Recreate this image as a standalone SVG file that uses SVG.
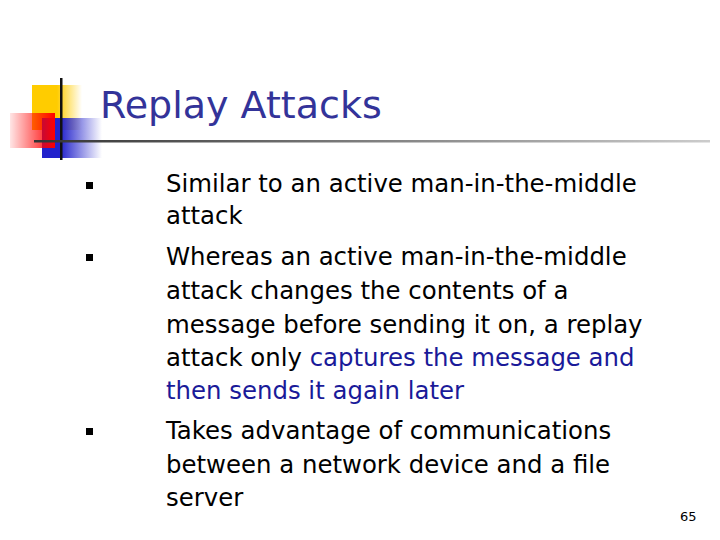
<svg xmlns="http://www.w3.org/2000/svg" width="720" height="540" viewBox="0 0 720 540">
<defs>
<linearGradient id="yg" x1="0" x2="1"><stop offset="0.5" stop-color="#ffcc00"/><stop offset="1" stop-color="#ffcc00" stop-opacity="0"/></linearGradient>
<linearGradient id="rg" x1="1" x2="0"><stop offset="0" stop-color="#ff0000"/><stop offset="1" stop-color="#ff0000" stop-opacity="0.1"/></linearGradient>
<linearGradient id="bg" x1="0" x2="1"><stop offset="0.3" stop-color="#2222cc"/><stop offset="1" stop-color="#2222cc" stop-opacity="0"/></linearGradient>
<linearGradient id="lg" x1="0" x2="1"><stop offset="0" stop-color="#333"/><stop offset="1" stop-color="#ccc"/></linearGradient>
<style>.t{font-family:"DejaVu Sans",Verdana,sans-serif;font-size:24.4px;fill:#000}.b{fill:#1a1a99}</style>
</defs>
<rect width="720" height="540" fill="#fff"/>
<rect x="32" y="85" width="50" height="45" fill="url(#yg)"/>
<rect x="42" y="118" width="60" height="40" fill="url(#bg)"/>
<rect x="10" y="113" width="45" height="35" fill="url(#rg)"/>
<rect x="60" y="78" width="2.5" height="82" fill="#111"/>
<rect x="34" y="140" width="676" height="2.5" fill="url(#lg)"/>
<text x="100" y="118" font-family="DejaVu Sans,Verdana,sans-serif" font-size="38" fill="#333399">Replay Attacks</text>
<g fill="#000"><rect x="86" y="182" width="7" height="7"/><rect x="86" y="254" width="7" height="7"/><rect x="86" y="428" width="7" height="7"/></g>
<text class="t">
<tspan x="166" y="192">Similar to an active man-in-the-middle</tspan>
<tspan x="166" y="224">attack</tspan>
<tspan x="166" y="265">Whereas an active man-in-the-middle</tspan>
<tspan x="166" y="299">attack changes the contents of a</tspan>
<tspan x="166" y="333">message before sending it on, a replay</tspan>
<tspan x="166" y="366">attack only <tspan class="b">captures the message and</tspan></tspan>
<tspan x="166" y="399" class="b">then sends it again later</tspan>
<tspan x="166" y="439">Takes advantage of communications</tspan>
<tspan x="166" y="473">between a network device and a file</tspan>
<tspan x="166" y="506">server</tspan>
</text>
<text x="680" y="521" font-family="DejaVu Sans,sans-serif" font-size="13">65</text>
</svg>
